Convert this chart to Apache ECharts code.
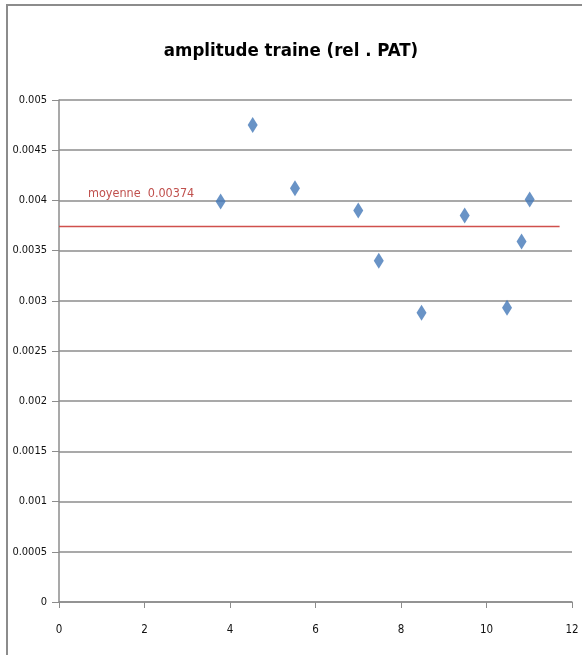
<!DOCTYPE html>
<html>
<head>
<meta charset="utf-8">
<script src="https://cdn.jsdelivr.net/npm/echarts@6/dist/echarts.min.js"></script>
<style>
  html, body { margin: 0; padding: 0; background: #fff; }
  #chart { width: 582px; height: 655px; }
</style>
</head>
<body>
<div id="chart"></div>
<script>
// données
var xValues = [3.78, 4.53, 5.52, 7.0, 7.48, 8.48, 9.49, 10.48, 10.82, 11.01];
var yValues = [0.00399, 0.00475, 0.00412, 0.0039, 0.0034, 0.00288, 0.00385, 0.00293, 0.00359, 0.00401];
var meanValue = 0.00374;
var meanLineX = [0, 11.71];
var meanLabel = "moyenne  0.00374";
var titleText = "amplitude traine (rel . PAT)";

var fontName = "'DejaVu Sans Condensed', 'Liberation Sans', sans-serif";

var points = xValues.map(function (x, i) { return [x, yValues[i]]; });
var meanLine = meanLineX.map(function (x) { return [x, meanValue]; });

var chart = echarts.init(document.getElementById("chart"));
chart.setOption({
    animation: false,
    title: {
        text: titleText,
        left: 'center',
        top: 37,
        textStyle: { fontFamily: fontName, fontSize: 18.5, fontWeight: 'bold', color: '#000' }
    },
    graphic: [
        // cadre du graphique (coupé à droite et en bas)
        { type: 'rect', shape: { x: 7, y: 5, width: 600, height: 700 },
          style: { fill: null, stroke: '#8c8c8c', lineWidth: 2 } }
    ],
    grid: { left: 59, right: 10, top: 100, bottom: 53 },
    xAxis: {
        type: 'value',
        min: 0, max: 12, interval: 2,
        axisLine: { lineStyle: { color: '#8c8c8c', width: 1.5 } },
        axisTick: { show: true, length: 6, lineStyle: { color: '#8c8c8c' } },
        axisLabel: { margin: 22, fontFamily: fontName, fontSize: 11.5, color: '#111' },
        splitLine: { show: false }
    },
    yAxis: {
        type: 'value',
        min: 0, max: 0.005, interval: 0.0005,
        axisLine: { show: true, lineStyle: { color: '#8c8c8c', width: 1.5 } },
        axisTick: { show: true, length: 7, lineStyle: { color: '#8c8c8c' } },
        axisLabel: {
            margin: 12, fontFamily: fontName, fontSize: 11, color: '#111',
            formatter: function (v) { return String(Number(v.toFixed(4))); }
        },
        splitLine: { show: true, lineStyle: { color: '#8c8c8c', width: 1.5 } }
    },
    series: [
        {
            name: 'moyenne',
            type: 'line',
            data: meanLine,
            symbol: 'none',
            lineStyle: { color: '#d0504d', width: 1.5 },
            label: { show: false },
            markPoint: {
                symbol: 'circle', symbolSize: 0,
                data: [{ coord: meanLine[0], value: meanLabel }],
                label: {
                    show: true, position: 'right', offset: [24, -33],
                    formatter: meanLabel,
                    fontFamily: fontName, fontSize: 12.5, color: '#c0504d'
                }
            },
            z: 2
        },
        {
            name: 'amplitude',
            type: 'scatter',
            data: points,
            symbol: 'diamond',
            symbolSize: [10, 16],
            itemStyle: { color: '#4478b8' },
            z: 3
        }
    ]
});
</script>
</body>
</html>
